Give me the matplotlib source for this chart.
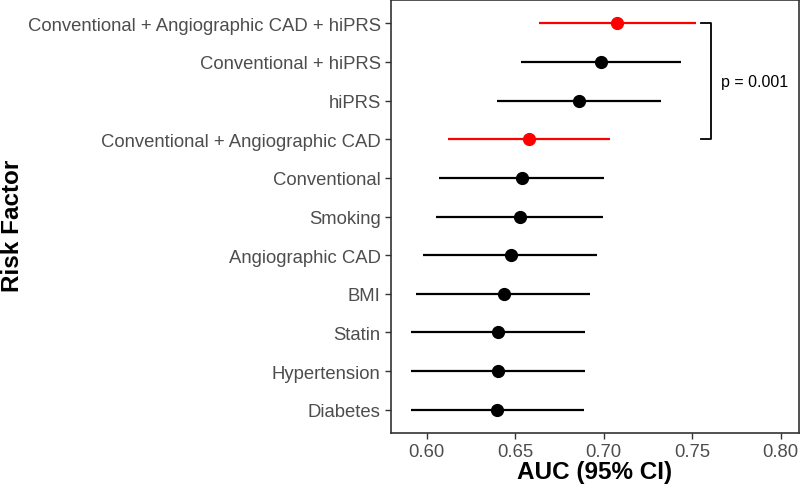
import matplotlib.pyplot as plt

# AUC with 95% CI for each risk factor model (top to bottom as shown)
factors = ['Conventional + Angiographic CAD + hiPRS', 'Conventional + hiPRS', 'hiPRS',
           'Conventional + Angiographic CAD', 'Conventional', 'Smoking', 'Angiographic CAD',
           'BMI', 'Statin', 'Hypertension', 'Diabetes']
auc = [0.7076, 0.6985, 0.6862, 0.6575, 0.6538, 0.6524, 0.6476, 0.6434, 0.6400, 0.6400, 0.6396]
ci_low = [0.6632, 0.6534, 0.6396, 0.6119, 0.6071, 0.6051, 0.5981, 0.5939, 0.5909, 0.5909, 0.5909]
ci_high = [0.7519, 0.7438, 0.7321, 0.7038, 0.7000, 0.6994, 0.6963, 0.6925, 0.6896, 0.6896, 0.6887]
highlight = [True, False, False, True, False, False, False, False, False, False, False]
x_ticks = [0.60, 0.65, 0.70, 0.75, 0.80]
p_label = 'p = 0.001'

plt.rcParams['font.family'] = ['Liberation Sans', 'DejaVu Sans']

fig = plt.figure(figsize=(8, 4.89), dpi=100)
ax = fig.add_axes([391 / 800, 1 - 434 / 489, 408 / 800, 433 / 489])

n = len(factors)
ypos = list(range(n, 0, -1))
for y, m, lo, hi, hl in zip(ypos, auc, ci_low, ci_high, highlight):
    col = '#FF0000' if hl else '#000000'
    ax.plot([lo, hi], [y, y], color=col, lw=1.6, solid_capstyle='butt', zorder=2)
    ax.plot(m, y, 'o', color=col, markersize=8.5, zorder=3)

# bracket between top model and conventional + angiographic CAD
y_top, y_bot = ypos[0], ypos[3]
ax.plot([0.7548, 0.7604, 0.7604, 0.7548], [y_top, y_top, y_bot, y_bot],
        color='#000000', lw=1.3, clip_on=False)
ax.text(0.7665, (ypos[1] + ypos[2]) / 2, p_label, fontsize=11.5, va='center', ha='left')

ax.set_xlim(0.5798, 0.8103)
ax.set_ylim(0.4, n + 0.6)
ax.set_xticks(x_ticks)
ax.set_xticklabels(['%.2f' % t for t in x_ticks])
ax.set_yticks(ypos)
ax.set_yticklabels(factors)
ax.tick_params(axis='both', colors='#333333', length=4, width=1, labelsize=13.3,
               labelcolor='#4D4D4D')
ax.tick_params(axis='x', pad=3)
for s in ax.spines.values():
    s.set_color('#333333')
    s.set_linewidth(1.2)

ax.set_xlabel('AUC (95% CI)', fontsize=17.5, fontweight='bold')
ax.set_ylabel('Risk Factor', fontsize=17.5, fontweight='bold')
ax.xaxis.set_label_coords(0.5, -0.088)
ax.xaxis.label.set_va('center')
ax.yaxis.set_label_coords(-(391 - 19) / 408, 0.48)
ax.yaxis.label.set_va('baseline')

fig.savefig('out.png', dpi=100)
